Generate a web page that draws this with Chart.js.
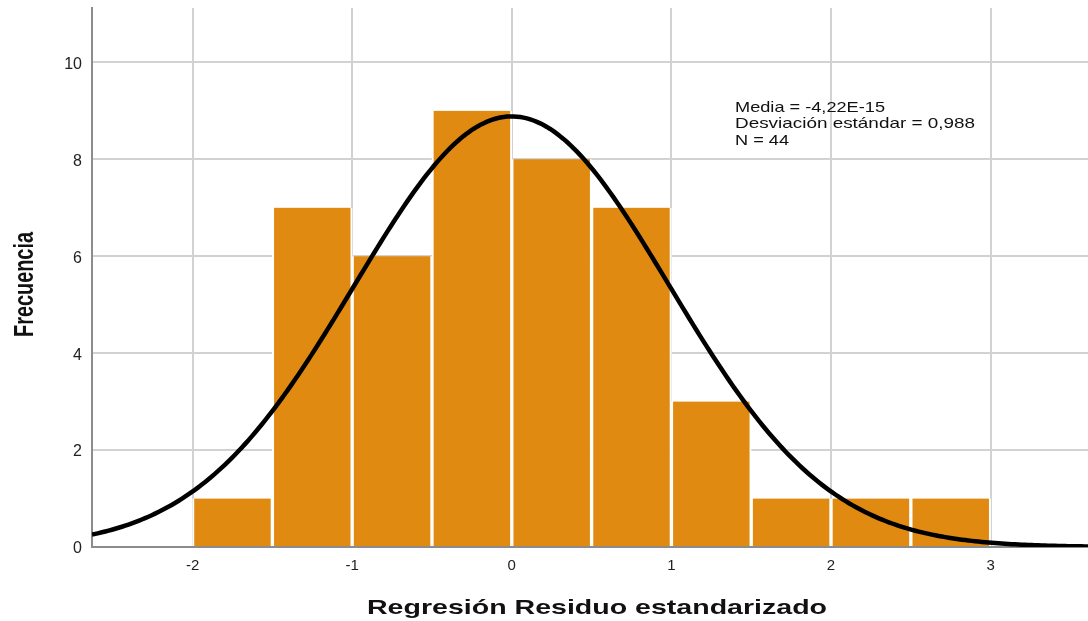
<!DOCTYPE html>
<html>
<head>
<meta charset="utf-8">
<script src="https://cdn.jsdelivr.net/npm/chart.js@4/dist/chart.umd.min.js"></script>
<style>
  html, body { margin: 0; padding: 0; background: #ffffff; }
  canvas { display: block; }
</style>
</head>
<body>
<canvas id="hist" width="1088" height="621"></canvas>
<script>
// Histogram bins (lower edges) and their frequencies
const binStarts = [-2, -1.5, -1, -0.5, 0, 0.5, 1, 1.5, 2, 2.5];
const binWidth = 0.5;
const frequencies = [1, 7, 6, 9, 8, 7, 3, 1, 1, 1];

// Axis ticks and ranges
const xTicks = [-2, -1, 0, 1, 2, 3];
const yTicks = [0, 2, 4, 6, 8, 10];
const xRange = [-2.63, 3.61];
const yMax = 11.12;

// Summary statistics shown in the corner box and used for the normal curve
const meanValue = -4.22e-15;
const sdValue = 0.988;
const nValue = 44;
const statLines = ['Media = -4,22E-15', 'Desviación estándar = 0,988', 'N = 44'];

const xTitle = 'Regresión Residuo estandarizado';
const yTitle = 'Frecuencia';

// Bars centred on each bin
const barPoints = binStarts.map((s, i) => ({ x: s + binWidth / 2, y: frequencies[i] }));

// Fitted normal curve scaled to counts per bin
const curvePoints = [];
(function () {
  const steps = 300;
  const k = nValue * binWidth / (sdValue * Math.sqrt(2 * Math.PI));
  for (let i = 0; i <= steps; i++) {
    const x = xRange[0] + (xRange[1] - xRange[0]) * i / steps;
    const z = (x - meanValue) / sdValue;
    curvePoints.push({ x: x, y: k * Math.exp(-0.5 * z * z) });
  }
})();

// Draws text stretched horizontally to a target width
function drawFitted(ctx, text, font, targetWidth) {
  ctx.font = font;
  const w = ctx.measureText(text).width;
  ctx.save();
  ctx.scale(targetWidth / w, 1);
  ctx.fillText(text, 0, 0);
  ctx.restore();
}

const textPlugin = {
  id: 'textPlugin',
  afterDraw(chart) {
    const ctx = chart.ctx;
    ctx.save();
    ctx.fillStyle = '#111111';
    ctx.textAlign = 'left';
    ctx.textBaseline = 'alphabetic';

    // statistics box
    const statWidths = [150, 240, 54];
    const baselines = [111.5, 128, 144.5];
    statLines.forEach((line, i) => {
      ctx.save();
      ctx.translate(735, baselines[i]);
      drawFitted(ctx, line, '15px "Liberation Sans", Arial, sans-serif', statWidths[i]);
      ctx.restore();
    });

    // x axis title
    ctx.save();
    ctx.translate(367, 613.5);
    drawFitted(ctx, xTitle, 'bold 21px "Liberation Sans", Arial, sans-serif', 460);
    ctx.restore();

    // y axis title
    ctx.save();
    ctx.translate(33, 337);
    ctx.rotate(-Math.PI / 2);
    drawFitted(ctx, yTitle, 'bold 28px "Liberation Sans Narrow", "Liberation Sans", Arial, sans-serif', 105);
    ctx.restore();

    ctx.restore();
  }
};

new Chart(document.getElementById('hist'), {
  data: {
    datasets: [
      {
        type: 'line',
        data: curvePoints,
        borderColor: '#000000',
        borderWidth: 4.5,
        pointRadius: 0,
        tension: 0,
        fill: false,
        order: 0
      },
      {
        type: 'bar',
        data: barPoints,
        backgroundColor: '#e08a12',
        borderColor: '#ffffff',
        borderWidth: { left: 2, right: 2, top: 0, bottom: 0 },
        borderSkipped: false,
        barPercentage: 1,
        categoryPercentage: 1,
        order: 1
      }
    ]
  },
  options: {
    responsive: false,
    animation: false,
    devicePixelRatio: 1,
    layout: { padding: { left: 0, right: 0, top: 8, bottom: 0 } },
    plugins: { legend: { display: false }, tooltip: { enabled: false } },
    scales: {
      x: {
        type: 'linear',
        offset: false,
        min: xRange[0],
        max: xRange[1],
        afterBuildTicks(scale) { scale.ticks = xTicks.map(v => ({ value: v })); },
        afterFit(scale) { scale.height = 74; scale.paddingLeft = 0; scale.paddingRight = 0; },
        grid: { color: '#d2d2d2', lineWidth: 2, drawTicks: false, offset: false },
        border: { color: '#8c8c8c', width: 2 },
        ticks: {
          color: '#222222',
          font: { family: '"Liberation Sans", Arial, sans-serif', size: 15 },
          padding: 10,
          maxRotation: 0
        }
      },
      y: {
        type: 'linear',
        min: 0,
        max: yMax,
        afterBuildTicks(scale) { scale.ticks = yTicks.map(v => ({ value: v })); },
        afterFit(scale) { scale.width = 92; scale.paddingTop = 0; scale.paddingBottom = 0; },
        grid: { color: '#d2d2d2', lineWidth: 2, drawTicks: false },
        border: { color: '#8c8c8c', width: 2 },
        ticks: {
          color: '#222222',
          font: { family: '"Liberation Sans", Arial, sans-serif', size: 16 },
          padding: 10,
          labelOffset: 2
        }
      }
    }
  },
  plugins: [textPlugin]
});
</script>
</body>
</html>
